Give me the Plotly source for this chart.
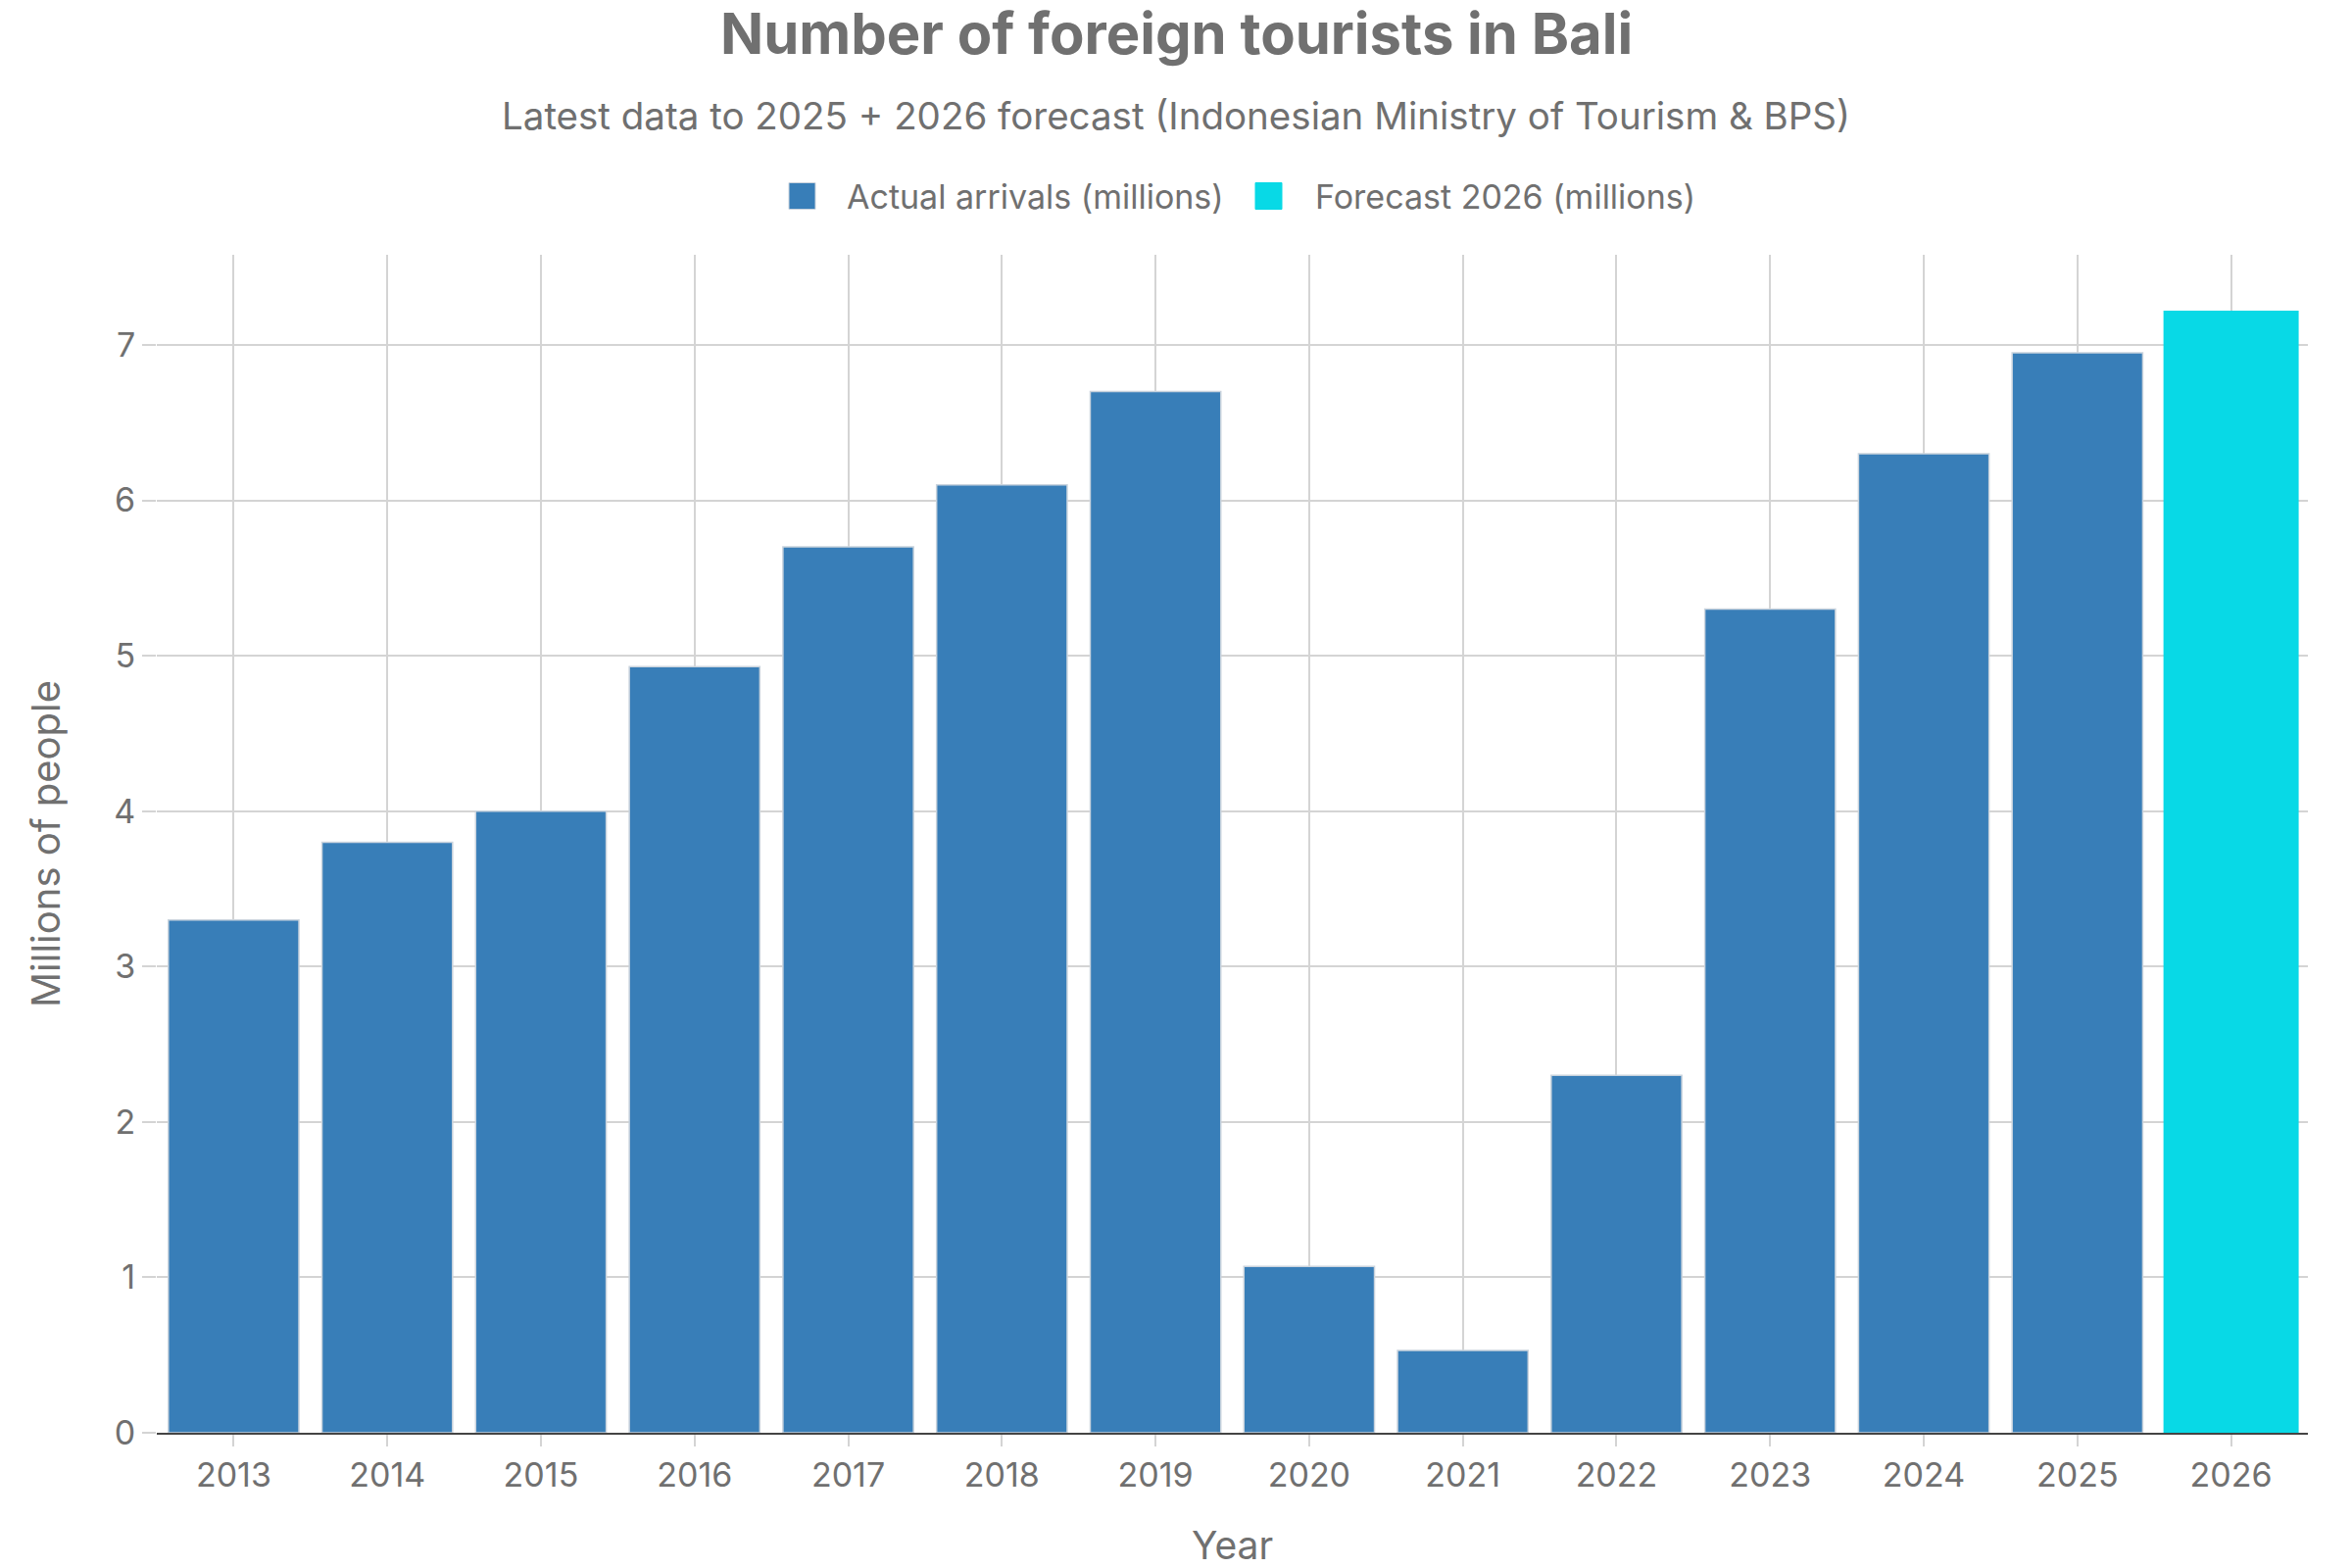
import plotly.graph_objects as go

years = ["2013", "2014", "2015", "2016", "2017", "2018", "2019",
         "2020", "2021", "2022", "2023", "2024", "2025"]
actual = [3.30, 3.80, 4.00, 4.93, 5.70, 6.10, 6.70, 1.07, 0.53, 2.30, 5.30, 6.30, 6.95]
forecast_years = ["2026"]
forecast = [7.22]
series_names = ["Actual arrivals (millions)", "Forecast 2026 (millions)"]

all_years = years + forecast_years
FONT = "Inter"
GRAY = "#707070"
BLUE = "#387eb8"
CYAN = "#08d9e6"

W, H = 2400, 1600
ML, MR, MT, MB = 160, 45, 260, 138
PW, PH = W - ML - MR, H - MT - MB


def px_x(px):
    return (px - ML) / PW


def px_y(py):
    return 1 + (MT - py) / PH


fig = go.Figure()
fig.add_trace(go.Bar(
    x=years, y=actual, name=series_names[0],
    marker=dict(color=BLUE, line=dict(color="#c9d3dd", width=1.5)),
    width=0.85, showlegend=False,
))
fig.add_trace(go.Bar(
    x=forecast_years, y=forecast, name=series_names[1],
    marker=dict(color=CYAN, line=dict(width=0)),
    width=0.88, showlegend=False,
))

fig.update_layout(
    width=W, height=H,
    barmode="overlay",
    paper_bgcolor="white", plot_bgcolor="white",
    font=dict(family=FONT, color=GRAY, size=34),
    margin=dict(l=ML, r=MR, t=MT, b=MB),
    showlegend=False,
)

# Title and subtitle
fig.add_annotation(
    text="<b>Number of foreign tourists in Bali</b>",
    xref="paper", yref="paper", x=px_x(1200), y=px_y(34),
    xanchor="center", yanchor="middle", showarrow=False,
    font=dict(size=58, color=GRAY, family=FONT),
)
fig.add_annotation(
    text="Latest data to 2025 + 2026 forecast (Indonesian Ministry of Tourism & BPS)",
    xref="paper", yref="paper", x=px_x(1200), y=px_y(118),
    xanchor="center", yanchor="middle", showarrow=False,
    font=dict(size=38.5, color=GRAY, family=FONT),
)

# Legend (drawn with larger square swatches)
legend_items = [(805, 862, BLUE, "#c9d3dd", series_names[0]),
                (1281, 1340, CYAN, CYAN, series_names[1])]
LEG_Y = 200
SW = 27
for sx, tx, col, lcol, name in legend_items:
    fig.add_shape(
        type="rect", xref="paper", yref="paper",
        x0=px_x(sx), x1=px_x(sx + SW), y0=px_y(LEG_Y - SW / 2), y1=px_y(LEG_Y + SW / 2),
        fillcolor=col, line=dict(color=lcol, width=1),
    )
    fig.add_annotation(
        text=name, xref="paper", yref="paper", x=px_x(tx), y=px_y(LEG_Y),
        xanchor="left", yanchor="middle", showarrow=False,
        font=dict(size=34, color=GRAY, family=FONT),
    )

fig.update_xaxes(
    type="category", categoryorder="array", categoryarray=all_years,
    range=[-0.5, 13.5],
    showgrid=True, gridcolor="#d4d4d4", gridwidth=1.5,
    showline=True, linecolor="#444444", linewidth=2,
    ticks="outside", ticklen=12, tickcolor="#d4d4d4", tickwidth=1.5,
    tickfont=dict(size=34, color=GRAY),
    title=dict(text="Year", font=dict(size=39, color=GRAY), standoff=47),
    automargin=False,
)
fig.update_yaxes(
    range=[0, 7.58], dtick=1,
    showgrid=True, gridcolor="#d4d4d4", gridwidth=1.5,
    zeroline=False, showline=False,
    ticks="outside", ticklen=14, tickcolor="#d4d4d4", tickwidth=1.5,
    tickfont=dict(size=34, color=GRAY),
    title=dict(text="Millions of people", font=dict(size=40, color=GRAY), standoff=42),
    automargin=False,
)

fig.write_html("out.html")
